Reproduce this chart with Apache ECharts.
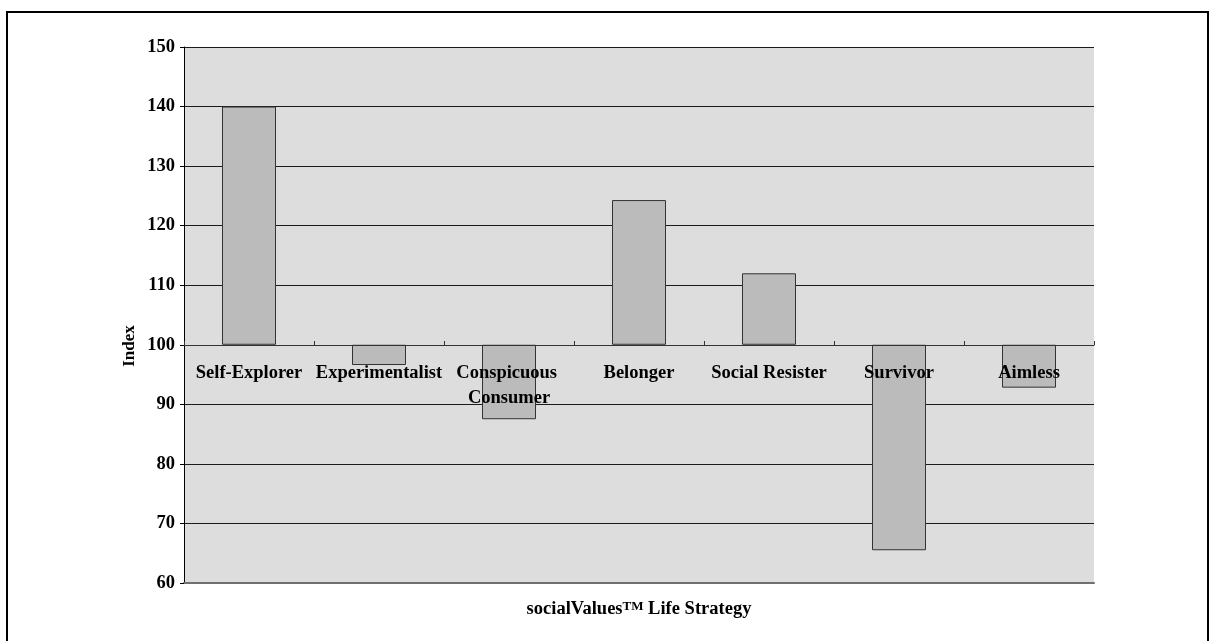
<!DOCTYPE html>
<html>
<head>
<meta charset="utf-8">
<script src="https://cdn.jsdelivr.net/npm/echarts@6/dist/echarts.min.js"></script>
<style>
html,body{margin:0;padding:0;background:#fff;}
#c{width:1210px;height:641px;}
</style>
</head>
<body>
<div id="c"></div>
<script>
const categories = ['Self-Explorer','Experimentalist','Conspicuous Consumer','Belonger','Social Resister','Survivor','Aimless'];
const indexValues = [140, 96.6, 87.5, 124.3, 112.0, 65.5, 92.8];
const baseline = 100;
const yTicks = {min: 60, max: 150, interval: 10};

const lowPart = indexValues.map(v => Math.min(v, baseline));
const diffPart = indexValues.map(v => Math.abs(v - baseline));

const FONT = '"Liberation Serif","Times New Roman",serif';
const chart = echarts.init(document.getElementById('c'), null, {renderer:'canvas'});
chart.setOption({
  animation: false,
  backgroundColor: '#ffffff',
  graphic: [
    {type:'rect', shape:{x:7, y:12, width:1201, height:640}, style:{fill:'none', stroke:'#000', lineWidth:2}, z:100},
    {type:'text', x:130, y:346, rotation:Math.PI/2, style:{text:'Index', font:'bold 17px ' + FONT, fill:'#000', align:'center', verticalAlign:'middle'}}
  ],
  grid: {left:184, right:116, top:47, bottom:58, show:true, backgroundColor:'#dddddd', borderWidth:0},
  xAxis: [
    {
      type:'category', data:categories, position:'bottom',
      axisLine:{show:true, lineStyle:{color:'#707070', width:2}},
      axisTick:{show:false}, axisLabel:{show:false}, splitLine:{show:false},
      name:'socialValues{sup|TM} Life Strategy', nameLocation:'middle', nameGap:17,
      nameTextStyle:{fontFamily:FONT, fontWeight:'bold', fontSize:18.5, color:'#000', verticalAlign:'top',
        rich:{sup:{fontFamily:FONT, fontWeight:'bold', fontSize:13, color:'#000', verticalAlign:'top', lineHeight:14, padding:[0,0,8,0]}}}
    },
    {
      type:'category', data:categories, position:'bottom', offset:-238, z:10,
      axisLine:{show:true, lineStyle:{color:'#333', width:1}},
      axisTick:{show:true, inside:true, length:4, lineStyle:{color:'#333'}},
      axisLabel:{show:true, interval:0, margin:16, fontFamily:FONT, fontWeight:'bold', fontSize:18.5, color:'#000',
        width:128, overflow:'break', lineHeight:25, align:'center'},
      splitLine:{show:false}
    }
  ],
  yAxis: {
    type:'value', min:yTicks.min, max:yTicks.max, interval:yTicks.interval,
    axisLine:{show:true, lineStyle:{color:'#000', width:1}},
    axisTick:{show:true, length:4, lineStyle:{color:'#000'}},
    axisLabel:{margin:9, fontFamily:FONT, fontWeight:'bold', fontSize:18.5, color:'#000'},
    splitLine:{show:true, lineStyle:{color:'#1a1a1a', width:1}}
  },
  series: [
    {type:'bar', stack:'s', data:lowPart, barWidth:54, xAxisIndex:0, silent:true,
      itemStyle:{color:'transparent', borderWidth:0}},
    {type:'bar', stack:'s', data:diffPart, barWidth:54, xAxisIndex:0, z:3,
      itemStyle:{color:'#bbbbbb', borderColor:'#333', borderWidth:1}}
  ]
});
</script>
</body>
</html>
